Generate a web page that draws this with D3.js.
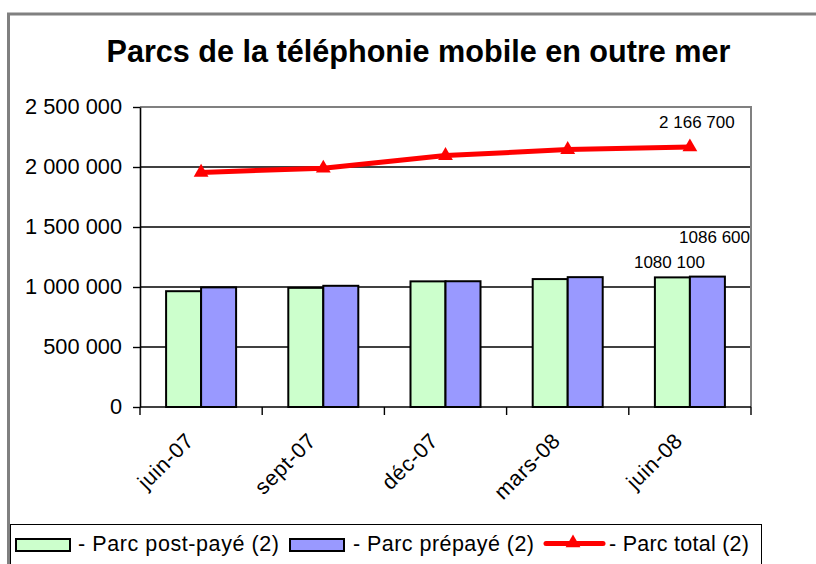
<!DOCTYPE html>
<html><head><meta charset="utf-8">
<script src="https://cdn.jsdelivr.net/npm/d3@7/dist/d3.min.js"></script>
<style>
html,body{margin:0;padding:0;background:#fff;}
svg{display:block;font-family:"Liberation Sans",Arial,sans-serif;}
</style></head><body>
<svg id="c" width="816" height="564"></svg>
<script>
const categories = ["juin-07","sept-07","déc-07","mars-08","juin-08"];
const postPaye = [965000, 993000, 1047000, 1066000, 1080100];
const prepaye  = [997000, 1010000, 1048000, 1082000, 1086600];
const total    = [1955000, 1990000, 2095000, 2145000, 2166700];
const yTicks   = [0, 500000, 1000000, 1500000, 2000000, 2500000];
const seriesNames = ["- Parc post-payé (2)", "- Parc prépayé (2)", "- Parc total (2)"];
const title = "Parcs de la téléphonie mobile en outre mer";

const svg = d3.select("#c");
const W = 816, H = 564;
const L = 140, R = 751, T = 107, B = 407;

const fmt = v => d3.format(",")(v).replace(/,/g, " ");

// outer chart border
svg.append("rect").attr("x", 8.5).attr("y", 14).attr("width", W + 20).attr("height", H + 20)
  .attr("fill", "#fff").attr("stroke", "#808080").attr("stroke-width", 3);

// title
svg.append("text").attr("x", 418.5).attr("y", 62).attr("text-anchor", "middle")
  .attr("font-size", 30.6).attr("font-weight", "bold").text(title);

const x = d3.scaleBand().domain(categories).range([L, R]).padding(0);
const bw = x.bandwidth();
const x1 = d3.scaleBand().domain(["post","pre"]).range([bw/2 - 35, bw/2 + 35]).padding(0);
const y = d3.scaleLinear().domain([0, 2500000]).range([B, T]);

// gridlines
svg.append("g").selectAll("line").data(yTicks.filter(d => d > 0 && d < 2500000)).join("line")
  .attr("x1", L).attr("x2", R).attr("y1", d => y(d)).attr("y2", d => y(d))
  .attr("stroke", "#000").attr("stroke-width", 1.6);
// plot border top/right (gray)
svg.append("path").attr("d", `M${L},${y(2500000)}H${R}V${B}`)
  .attr("fill", "none").attr("stroke", "#808080").attr("stroke-width", 2);

// bars
const bars = svg.append("g");
categories.forEach((c, i) => {
  [["post", postPaye[i], "#CCFFCC"], ["pre", prepaye[i], "#9999FF"]].forEach(([k, v, col]) => {
    bars.append("rect")
      .attr("x", x(c) + x1(k)).attr("width", x1.bandwidth())
      .attr("y", y(v)).attr("height", y(0) - y(v))
      .attr("fill", col).attr("stroke", "#000").attr("stroke-width", 2);
  });
});

// y axis
const yAxis = d3.axisLeft(y).tickValues(yTicks).tickFormat(fmt).tickSize(7).tickSizeOuter(0).tickPadding(11);
const gy = svg.append("g").attr("transform", `translate(${L},0)`).call(yAxis);
gy.select(".domain").attr("stroke", "#000").attr("stroke-width", 1.6);
gy.selectAll(".tick line").attr("stroke", "#000").attr("stroke-width", 1.4);
gy.selectAll(".tick text").attr("font-size", 21.8).attr("fill", "#000")
  .attr("font-family", "Liberation Sans, Arial, sans-serif");

// x axis line and ticks at band edges
svg.append("line").attr("x1", L).attr("x2", R).attr("y1", B).attr("y2", B)
  .attr("stroke", "#000").attr("stroke-width", 1.6);
const edges = categories.map(c => x(c)).concat([x.range()[1]]);
svg.append("g").selectAll("line").data(edges).join("line")
  .attr("x1", d => d).attr("x2", d => d).attr("y1", B).attr("y2", B + 8)
  .attr("stroke", "#000").attr("stroke-width", 1.4);
svg.append("g").selectAll("text").data(categories).join("text")
  .attr("transform", d => `translate(${x(d) + bw/2 - 6},${B + 35}) rotate(-45)`)
  .attr("text-anchor", "end").attr("font-size", 21.5).attr("letter-spacing", 0.6).text(d => d);

// total line
const line = d3.line().x((d, i) => x(categories[i]) + bw/2).y(d => y(d));
svg.append("path").datum(total).attr("d", line).attr("fill", "none")
  .attr("stroke", "#FF0000").attr("stroke-width", 5).attr("stroke-linejoin", "round");
const tri = d3.symbol().type(d3.symbolTriangle).size(95);
svg.append("g").selectAll("path").data(total).join("path")
  .attr("transform", (d, i) => `translate(${x(categories[i]) + bw/2},${y(d)})`)
  .attr("d", tri).attr("fill", "#FF0000");

// data labels (last point)
const li = categories.length - 1;
const cx = x(categories[li]);
svg.append("text").attr("x", cx + bw/2 + 7).attr("y", y(total[li]) - 19)
  .attr("text-anchor", "middle").attr("font-size", 17).text(fmt(total[li]));
svg.append("text").attr("x", cx + x1("post") + x1.bandwidth()/2 - 3).attr("y", y(postPaye[li]) - 9)
  .attr("text-anchor", "middle").attr("font-size", 17).text(fmt(postPaye[li]).replace(" ", ""));
svg.append("text").attr("x", R - 1).attr("y", y(prepaye[li]) - 34)
  .attr("text-anchor", "end").attr("font-size", 17).text(fmt(prepaye[li]).replace(" ", ""));

// legend
const lg = svg.append("g");
lg.append("rect").attr("x", 10.5).attr("y", 524.5).attr("width", 751).attr("height", 60)
  .attr("fill", "#fff").attr("stroke", "#000").attr("stroke-width", 1);
const ly = 545;
lg.append("rect").attr("x", 16).attr("y", ly - 6).attr("width", 54).attr("height", 12)
  .attr("fill", "#CCFFCC").attr("stroke", "#000").attr("stroke-width", 2);
lg.append("text").attr("x", 78).attr("y", 551).attr("font-size", 21.5)
  .attr("textLength", 201).attr("lengthAdjust", "spacing").text(seriesNames[0]);
lg.append("rect").attr("x", 290).attr("y", ly - 6).attr("width", 54).attr("height", 12)
  .attr("fill", "#9999FF").attr("stroke", "#000").attr("stroke-width", 2);
lg.append("text").attr("x", 353).attr("y", 551).attr("font-size", 21.5)
  .attr("textLength", 181).attr("lengthAdjust", "spacing").text(seriesNames[1]);
lg.append("line").attr("x1", 546).attr("x2", 603).attr("y1", ly - 1.5).attr("y2", ly - 1.5)
  .attr("stroke", "#FF0000").attr("stroke-width", 5).attr("stroke-linecap", "round");
lg.append("path").attr("transform", `translate(573,${ly - 2})`).attr("d", tri).attr("fill", "#FF0000");
lg.append("text").attr("x", 609).attr("y", 551).attr("font-size", 21.5)
  .attr("textLength", 140).attr("lengthAdjust", "spacing").text(seriesNames[2]);
</script>
</body></html>
